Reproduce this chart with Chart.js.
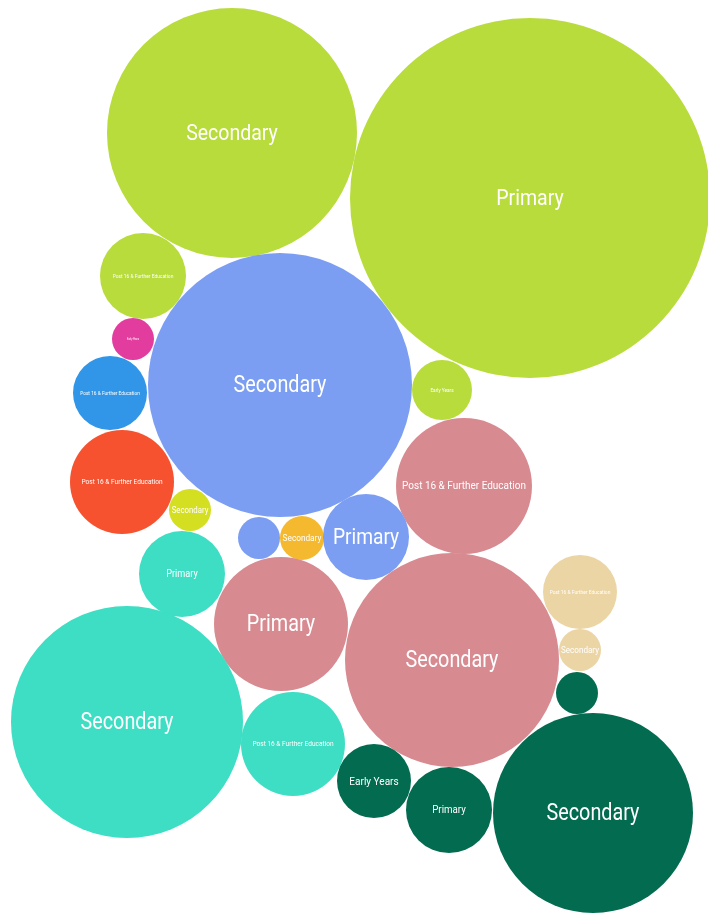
<!DOCTYPE html>
<html lang="en">
<head>
    <meta charset="UTF-8">
    <title>School Phases Bubble Chart</title>
    <script src="https://cdn.jsdelivr.net/npm/chart.js"></script>
    <style>
        body {
            margin: 0;
            padding: 0;
            background: #ffffff;
        }

        .container {
            width: 708px;
            height: 913px;
            position: relative;
        }
    </style>
</head>
<body>
    <div class="container">
        <canvas id="bubbleChart"></canvas>
    </div>

    <script>
        // bubble data (x / y in chart units, r = bubble size)
        const stages = [
            'Secondary', 'Primary', 'Post 16 & Further Education', 'Early Years',
            'Secondary', 'Post 16 & Further Education', 'Early Years', 'Post 16 & Further Education',
            'Post 16 & Further Education', 'Secondary', '', 'Secondary',
            'Primary', 'Primary', 'Primary', 'Secondary',
            'Post 16 & Further Education', 'Secondary', '', 'Secondary',
            'Post 16 & Further Education', 'Early Years', 'Primary', 'Secondary'
        ];
        const xValues = [232, 530, 143, 133, 280, 110, 442, 122, 464, 190, 259, 302,
                         366, 182, 281, 452, 580, 580, 577, 127, 293, 374, 449, 593];
        const yValues = [133, 198, 276, 339, 385, 393, 390, 482, 486, 510, 538, 538,
                         537, 574, 624, 660, 592, 650, 693, 722, 744, 781, 810, 813];
        const sizes = [125, 180, 43, 21, 132, 37, 30, 52, 68, 21, 21, 22,
                       43, 43, 67, 107, 37, 21, 21, 116, 52, 37, 43, 100];
        const groups = [0, 0, 0, 1, 2, 3, 0, 4, 5, 6, 2, 7,
                        2, 8, 5, 5, 9, 9, 10, 8, 8, 10, 10, 10];

        // styling
        const palette = ['#b8dc3c', '#e23c9f', '#7b9ef3', '#3196e8', '#f75230', '#d88a91',
                         '#d5df22', '#f5b930', '#3ddec3', '#ecd5a5', '#036b50'];
        const labelFont = [22.7, 22.7, 5.7, 2.8, 23, 5.6, 5.5, 7.6, 11.6, 9.1, 0, 9.6,
                           22.3, 10.6, 23, 23, 5.7, 9.4, 0, 23, 7.6, 11.7, 11.3, 23];

        const points = xValues.map((x, i) => ({ x: x, y: yValues[i], r: sizes[i] }));

        // draws the stage name in the middle of each bubble
        const bubbleLabels = {
            id: 'bubbleLabels',
            afterDatasetsDraw(chart) {
                const ctx = chart.ctx;
                const meta = chart.getDatasetMeta(0);
                ctx.save();
                ctx.fillStyle = '#ffffff';
                ctx.textAlign = 'center';
                ctx.textBaseline = 'middle';
                meta.data.forEach((el, i) => {
                    if (!stages[i] || !labelFont[i]) return;
                    ctx.save();
                    ctx.translate(el.x, el.y + labelFont[i] * 0.05);
                    ctx.scale(0.86, 1);
                    ctx.font = labelFont[i] + 'px Roboto';
                    ctx.fillText(stages[i], 0, 0);
                    ctx.restore();
                });
                ctx.restore();
            }
        };

        const ctx = document.getElementById('bubbleChart').getContext('2d');
        new Chart(ctx, {
            type: 'bubble',
            data: {
                labels: stages,
                datasets: [{
                    data: points,
                    backgroundColor: groups.map((g) => palette[g]),
                    borderWidth: 0,
                    hoverBorderWidth: 0,
                    clip: false,
                }],
            },
            options: {
                responsive: true,
                maintainAspectRatio: false,
                animation: false,
                layout: { padding: 0, autoPadding: false },
                plugins: {
                    legend: { display: false },
                    tooltip: { enabled: false },
                },
                scales: {
                    x: { type: 'linear', min: 0, max: 708, display: false },
                    y: { type: 'linear', min: 0, max: 913, reverse: true, display: false },
                },
            },
            plugins: [bubbleLabels],
        });
    </script>
</body>
</html>
